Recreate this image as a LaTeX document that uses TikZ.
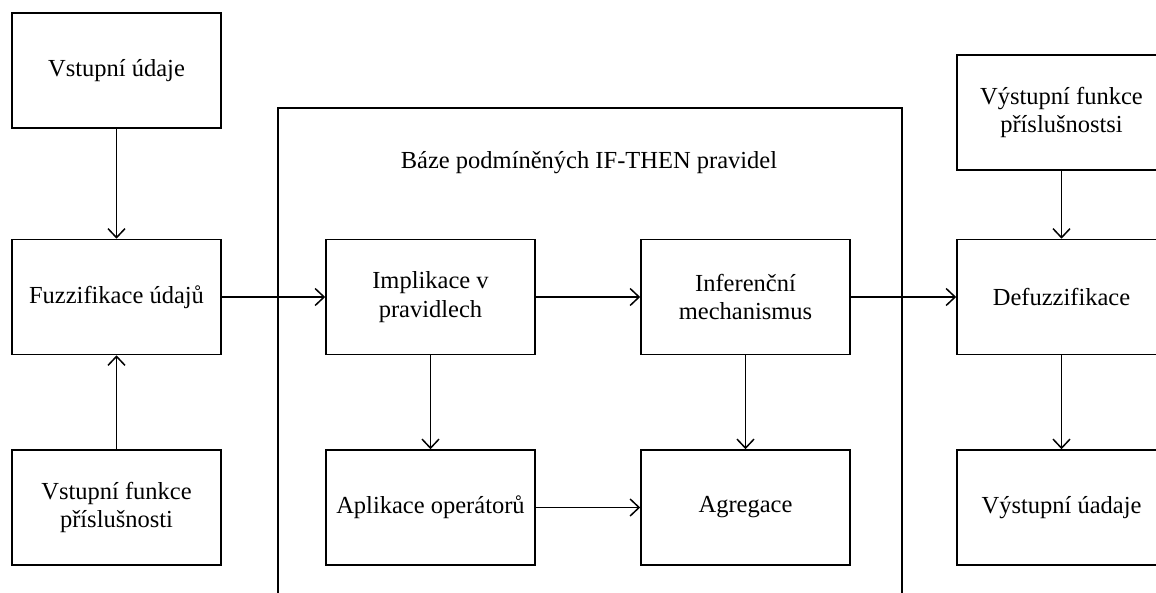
\documentclass[tikz,border=0pt]{standalone}
\usepackage{fontspec}
\setmainfont{Liberation Serif}
\usetikzlibrary{arrows.meta}
\begin{document}
\begin{tikzpicture}[x=1pt,y=-1pt,
  block/.style={draw, line width=1.6pt, minimum width=209pt, minimum height=115pt,
    inner sep=0pt, align=center, font=\fontsize{24.5}{28.5}\selectfont},
  flow/.style={line width=1.5pt, -{Straight Barb[length=9pt,width=17pt,line width=1.5pt]}},
  label/.style={font=\fontsize{24.5}{28.5}\selectfont, inner sep=0pt}]
\useasboundingbox (0,0) rectangle (1156,592);
\clip (0,0) rectangle (1156,592);

% rule base container (open at the bottom of the page)
\node[draw, line width=1.6pt, minimum width=624pt, minimum height=540pt, inner sep=0pt,
  anchor=north west] (rulebase) at (277,107) {};
\node[label] (title) at (589,163) {Báze podmíněných IF-THEN pravidel};

% input column
\node[block] (in1)   at (116.5,70.5)  {Vstupní údaje};
\node[block] (fuzz)  at (116.5,297)   {Fuzzifikace údajů};
\node[block] (in2)   at (116.5,507.5) {Vstupní funkce\\příslušnosti};

% inference blocks
\node[block] (impl)  at (430.5,297)   {Implikace v\\pravidlech};
\node[block] (infer) at (745.5,297)   {Inferenční\\mechanismus};
\node[block] (apl)   at (430.5,507.5) {Aplikace operátorů};
\node[block] (agr)   at (745.5,507.5) {Agregace};

% output column
\node[block] (outf)  at (1061.5,112.5) {Výstupní funkce\\příslušnostsi};
\node[block] (defuz) at (1061.5,297)   {Defuzzifikace};
\node[block] (outd)  at (1061.5,507.5) {Výstupní úadaje};

% connectors
\draw[flow] (in1) -- (fuzz);
\draw[flow] (in2) -- (fuzz);
\draw[flow] (fuzz) -- (impl);
\draw[flow] (impl) -- (infer);
\draw[flow] (infer) -- (defuz);
\draw[flow] (impl) -- (apl);
\draw[flow] (infer) -- (agr);
\draw[flow] (apl) -- (agr);
\draw[flow] (outf) -- (defuz);
\draw[flow] (defuz) -- (outd);
\end{tikzpicture}
\end{document}
